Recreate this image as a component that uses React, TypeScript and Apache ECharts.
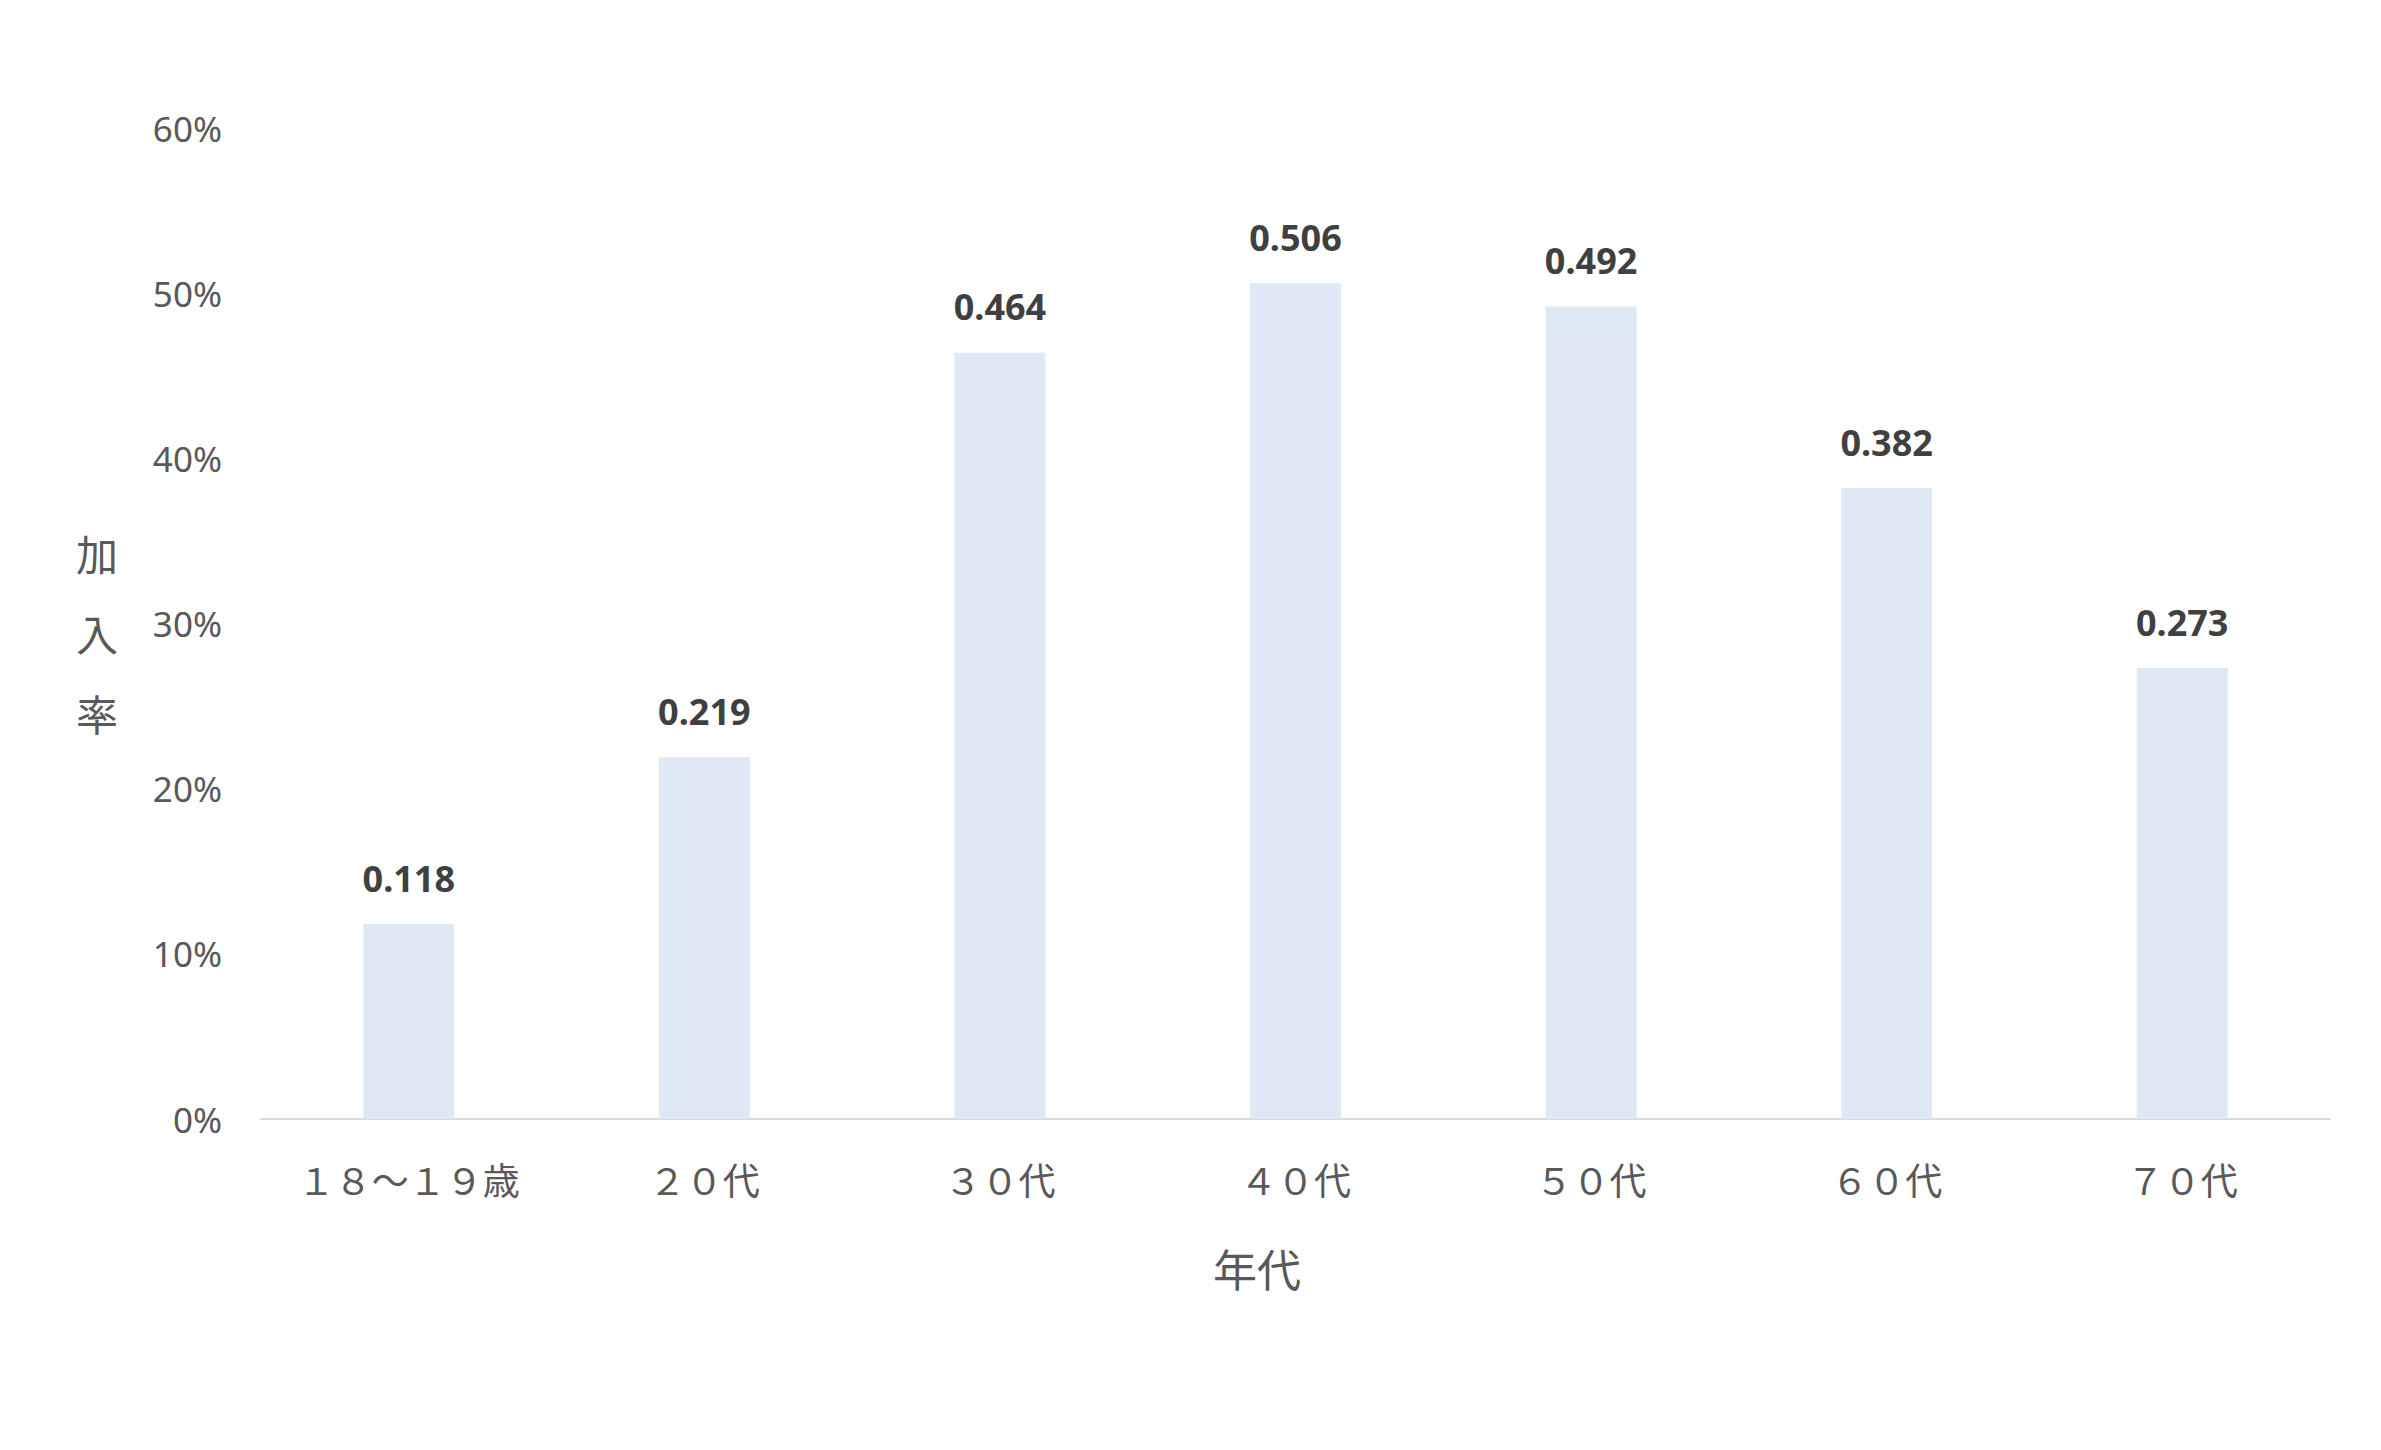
import React, { useEffect, useRef } from "react";
import * as echarts from "echarts";

const categories = ["１８～１９歳", "２０代", "３０代", "４０代", "５０代", "６０代", "７０代"];
const rates = [0.118, 0.219, 0.464, 0.506, 0.492, 0.382, 0.273];
const yTicks = [0, 0.1, 0.2, 0.3, 0.4, 0.5, 0.6];
const xAxisTitle = "年代";
const yAxisTitle = "加\n入\n率";

export default function App() {
  const ref = useRef<HTMLDivElement>(null);
  useEffect(() => {
    document.body.style.margin = "0";
    const chart = echarts.init(ref.current!, null, { renderer: "svg" });
    chart.setOption({
      animation: false,
      backgroundColor: "#ffffff",
      grid: { left: 261, right: 51, top: 128, bottom: 331, containLabel: false },
      xAxis: {
        type: "category",
        data: categories,
        axisLine: { show: true, lineStyle: { color: "#D9D9D9", width: 2 } },
        axisTick: { show: false },
        axisLabel: {
          interval: 0,
          hideOverlap: false,
          color: "#595959",
          fontSize: 37,
          fontFamily: "Noto Sans CJK JP",
          margin: 41,
        },
      },
      yAxis: {
        type: "value",
        min: yTicks[0],
        max: yTicks[yTicks.length - 1],
        interval: 0.1,
        splitLine: { show: false },
        axisLine: { show: false },
        axisTick: { show: false },
        axisLabel: {
          color: "#595959",
          fontSize: 35,
          fontFamily: "Noto Sans",
          margin: 39,
          formatter: (v: number) => Math.round(v * 100) + "%",
        },
      },
      series: [
        {
          type: "bar",
          data: rates,
          barWidth: 91,
          itemStyle: { color: "#DEE9F5" },
          label: {
            show: true,
            position: "top",
            distance: 28,
            color: "#404040",
            fontSize: 36,
            fontWeight: "bold",
            fontFamily: "Noto Sans",
            formatter: (p: any) => String(p.value),
          },
        },
      ],
      graphic: [
        {
          type: "text",
          left: 1213,
          top: 1246,
          style: {
            text: xAxisTitle,
            fill: "#595959",
            fontSize: 44,
            fontFamily: "Noto Sans CJK JP",
          },
        },
        {
          type: "text",
          left: 76,
          top: 512,
          style: {
            text: yAxisTitle,
            fill: "#595959",
            fontSize: 42,
            lineHeight: 80,
            fontFamily: "Noto Sans CJK JP",
          },
        },
      ],
    });
    return () => chart.dispose();
  }, []);
  return <div ref={ref} style={{ width: 2381, height: 1450 }} />;
}
